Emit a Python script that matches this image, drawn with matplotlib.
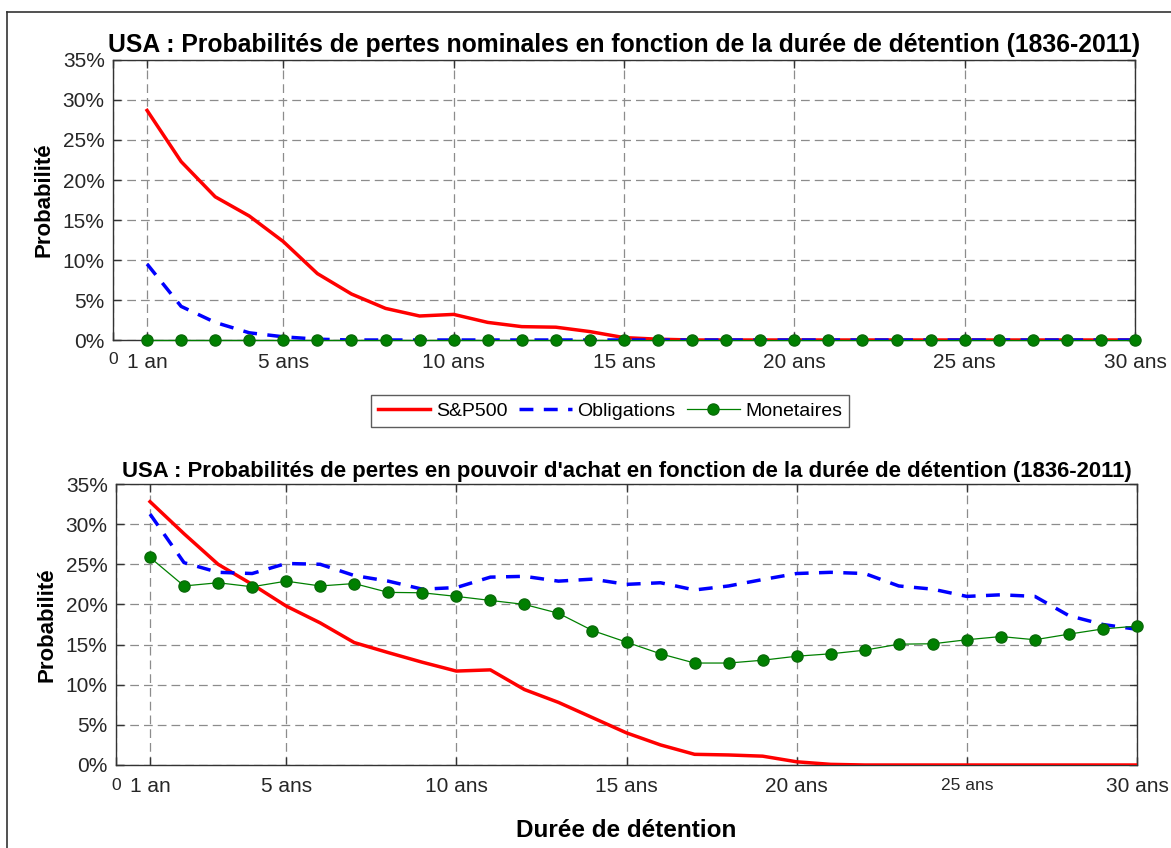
import matplotlib
matplotlib.use("Agg")
import matplotlib.pyplot as plt
from matplotlib.lines import Line2D
from matplotlib.ticker import FuncFormatter

plt.rcParams['font.family'] = ['Liberation Sans', 'DejaVu Sans']

years = list(range(1, 31))

nominal_sp500 = [28.7, 22.3, 17.9, 15.5, 12.3, 8.3, 5.75, 3.95, 3.0, 3.2,
                 2.2, 1.67, 1.6, 1.05, 0.3, 0.1, 0, 0, 0, 0,
                 0, 0, 0, 0, 0, 0, 0, 0, 0, 0]
nominal_bonds = [9.5, 4.2, 2.2, 0.9, 0.4, 0.1, 0, 0, 0, 0,
                 0, 0, 0, 0, 0, 0, 0, 0, 0, 0,
                 0, 0, 0, 0, 0, 0, 0, 0, 0, 0]
nominal_money = [0] * 30

real_sp500 = [32.8, 28.8, 25.0, 22.5, 19.8, 17.7, 15.25, 14.0, 12.8, 11.7,
              11.85, 9.4, 7.8, 5.9, 4.0, 2.5, 1.33, 1.25, 1.1, 0.4,
              0.08, 0, 0, 0, 0, 0, 0, 0, 0, 0]
real_bonds = [31.25, 25.2, 24.0, 23.85, 25.1, 25.0, 23.6, 22.9, 21.9, 22.1,
              23.4, 23.5, 22.9, 23.15, 22.5, 22.7, 21.8, 22.3, 23.1, 23.85,
              24.0, 23.85, 22.3, 21.9, 21.0, 21.2, 21.0, 18.6, 17.5, 16.9]
real_money = [25.85, 22.3, 22.7, 22.2, 22.9, 22.3, 22.6, 21.5, 21.45, 21.0,
              20.5, 20.0, 18.9, 16.75, 15.3, 13.85, 12.7, 12.7, 13.05, 13.55,
              13.85, 14.3, 15.05, 15.1, 15.6, 16.0, 15.6, 16.3, 16.95, 17.3]

xtick_pos = [0, 1, 5, 10, 15, 20, 25, 30]
xtick_labels = ['0', '1 an', '5 ans', '10 ans', '15 ans', '20 ans', '25 ans', '30 ans']
ytick_pos = [0, 5, 10, 15, 20, 25, 30, 35]

series_names = ['S&P500', 'Obligations', 'Monetaires']
title_top = "USA : Probabilités de pertes nominales en fonction de la durée de détention (1836-2011)"
title_bot = "USA : Probabilités de pertes en pouvoir d'achat en fonction de la durée de détention (1836-2011)"

W, H = 1171, 848
fig = plt.figure(figsize=(W / 100, H / 100), dpi=100)

def px_axes(l, r, t, b):
    return fig.add_axes([l / W, 1 - b / H, (r - l) / W, (b - t) / H])

ax1 = px_axes(113, 1135, 60, 340)
ax2 = px_axes(116, 1137, 484, 765)

tick_col = '#262626'

def style(ax, small_label_idx):
    ax.set_xlim(0, 30)
    ax.set_ylim(0, 35)
    ax.set_xticks(xtick_pos)
    ax.set_xticklabels(xtick_labels)
    ax.set_yticks(ytick_pos)
    ax.yaxis.set_major_formatter(FuncFormatter(lambda v, p: f"{int(v)}%"))
    ax.grid(True, color='#8c8c8c', linestyle=(0, (7, 4)), linewidth=0.9)
    ax.set_axisbelow(True)
    ax.tick_params(direction='in', length=6, width=1, top=True, right=True,
                   colors='#333333', labelcolor=tick_col)
    ax.tick_params(axis='y', labelsize=15, pad=6)
    ax.tick_params(axis='x', labelsize=15, pad=9)
    for s in ax.spines.values():
        s.set_color('#333333')
        s.set_linewidth(1.0)
    labels = ax.get_xticklabels()
    labels[0].set_fontsize(12.5)
    for i in small_label_idx:
        labels[i].set_fontsize(12.5)
    ax.set_ylabel('Probabilité', fontsize=16, fontweight='bold', labelpad=6)

red = '#ff0000'
blue = '#0000ff'
green = '#008000'

def draw(ax, sp, bo, mo):
    l1, = ax.plot(years, sp, color=red, lw=2.5, solid_joinstyle='round', zorder=3)
    l2, = ax.plot(years, bo, color=blue, lw=2.5, dashes=(4, 3), zorder=4)
    l3, = ax.plot(years, mo, color=green, lw=0.9, marker='o', markersize=8,
                  markerfacecolor=green, markeredgecolor='#0a6a0a', zorder=5,
                  clip_on=False)
    return l1, l2, l3

h = draw(ax1, nominal_sp500, nominal_bonds, nominal_money)
draw(ax2, real_sp500, real_bonds, real_money)
style(ax1, [])
style(ax2, [6])

ax1.set_title(title_top, fontsize=17.8, fontweight='bold', pad=6)
ax2.set_title(title_bot, fontsize=15.9, fontweight='bold', pad=5)
ax2.set_xlabel('Durée de détention', fontsize=17.5, fontweight='bold', labelpad=16)

leg = fig.legend(h, series_names, loc='center', ncol=3,
                 bbox_to_anchor=(610 / W, 1 - 411 / H), fontsize=14,
                 frameon=True, fancybox=False, edgecolor='#333333',
                 handlelength=2.7, handletextpad=0.3, columnspacing=0.6,
                 borderpad=0.35)
leg.get_frame().set_linewidth(1.0)

# figure border
fig.add_artist(Line2D([7 / W, 1], [1 - 12 / H, 1 - 12 / H], color='#333333', lw=1.2,
                      transform=fig.transFigure))
fig.add_artist(Line2D([7 / W, 7 / W], [0, 1 - 12 / H], color='#333333', lw=1.2,
                      transform=fig.transFigure))

fig.savefig('out.png', dpi=100)
